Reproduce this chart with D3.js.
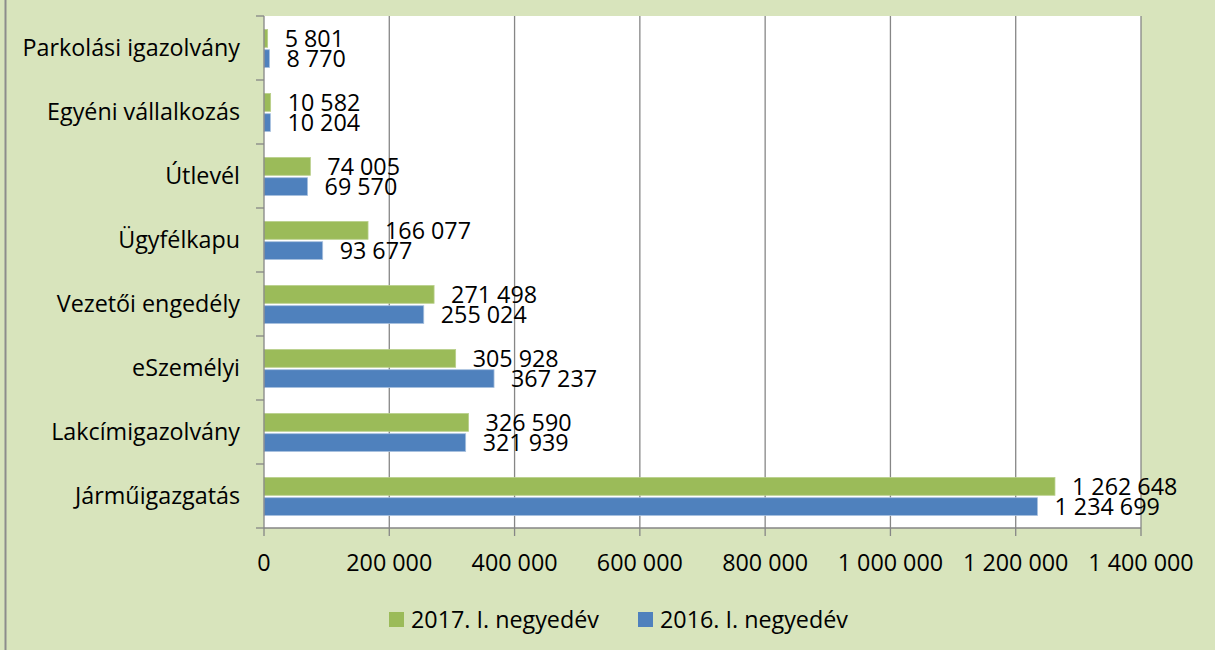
<!DOCTYPE html>
<html>
<head>
<meta charset="utf-8">
<script src="https://cdn.jsdelivr.net/npm/d3@7"></script>
<style>
  body { margin: 0; background: #d8e4bc; }
  text { font-family: "Open Sans", sans-serif; fill: #000; }
</style>
</head>
<body>
<div id="chart"></div>
<script>
// categories from bottom to top as in the picture
const categories = ['Járműigazgatás', 'Lakcímigazolvány', 'eSzemélyi', 'Vezetői engedély',
  'Ügyfélkapu', 'Útlevél', 'Egyéni vállalkozás', 'Parkolási igazolvány'];
const values2017 = [1262648, 326590, 305928, 271498, 166077, 74005, 10582, 5801];
const values2016 = [1234699, 321939, 367237, 255024, 93677, 69570, 10204, 8770];
const seriesNames = ['2017. I. negyedév', '2016. I. negyedév'];
const xTicks = [0, 200000, 400000, 600000, 800000, 1000000, 1200000, 1400000];

const W = 1215, H = 650;
const plotL = 264, plotR = 1141, plotT = 16, plotB = 528;
const colors = ['#9bbb59', '#4f81bd'];
const fs = 23.3;

function fmt(v) {
  return String(v).replace(/\B(?=(\d{3})+(?!\d))/g, ' ');
}

const svg = d3.select('#chart').append('svg')
  .attr('width', W).attr('height', H);

// background and left border
svg.append('rect').attr('width', W).attr('height', H).attr('fill', '#d8e4bc');
svg.append('line').attr('x1', 5.5).attr('x2', 5.5).attr('y1', 0).attr('y2', H)
  .attr('stroke', '#8c8c8c').attr('stroke-width', 2);

// plot area
svg.append('rect').attr('x', plotL).attr('y', plotT)
  .attr('width', plotR - plotL).attr('height', plotB - plotT).attr('fill', '#fff');

const x = d3.scaleLinear().domain([0, 1400000]).range([plotL, plotR]);
const y = d3.scaleBand().domain(categories.slice().reverse()).range([plotT, plotB]);
const inner = d3.scaleBand().domain([0, 1]).range([13.5, y.bandwidth() - 12.5]).paddingInner(0.12);

// gridlines
svg.append('g').selectAll('line').data(xTicks.slice(1)).enter().append('line')
  .attr('x1', d => x(d)).attr('x2', d => x(d))
  .attr('y1', plotT).attr('y2', plotB + 8)
  .attr('stroke', '#868686').attr('stroke-width', 1.3);

// bars
const series = [values2017, values2016];
series.forEach((vals, s) => {
  svg.append('g').selectAll('rect').data(vals).enter().append('rect')
    .attr('x', x(0))
    .attr('y', (d, i) => y(categories[i]) + inner(s))
    .attr('width', d => x(d) - x(0))
    .attr('height', inner.bandwidth())
    .attr('fill', colors[s])
    .attr('stroke', s === 1 ? '#a7c0de' : '#b9cf8a').attr('stroke-width', 0.8);

  svg.append('g').selectAll('text').data(vals).enter().append('text')
    .attr('x', d => x(d) + 17)
    .attr('y', (d, i) => y(categories[i]) + inner(s) + inner.bandwidth() / 2)
    .attr('dy', '0.36em')
    .attr('font-size', fs)
    .text(d => fmt(d));
});

// y axis
svg.append('line').attr('x1', plotL).attr('x2', plotL).attr('y1', plotT).attr('y2', plotB + 8)
  .attr('stroke', '#868686').attr('stroke-width', 1.3);
const bounds = y.domain().map(c => y(c)).concat([plotB]);
svg.append('g').selectAll('line').data(bounds).enter().append('line')
  .attr('x1', plotL - 8).attr('x2', plotL).attr('y1', d => d).attr('y2', d => d)
  .attr('stroke', '#868686').attr('stroke-width', 1.3);
svg.append('g').selectAll('text').data(categories).enter().append('text')
  .attr('x', 240)
  .attr('y', d => y(d) + y.bandwidth() / 2)
  .attr('dy', '0.36em')
  .attr('text-anchor', 'end')
  .attr('font-size', fs)
  .text(d => d);

// x axis
svg.append('line').attr('x1', plotL).attr('x2', plotR).attr('y1', plotB).attr('y2', plotB)
  .attr('stroke', '#868686').attr('stroke-width', 1.3);
svg.append('g').selectAll('text').data(xTicks).enter().append('text')
  .attr('x', d => x(d))
  .attr('y', 563)
  .attr('dy', '0.36em')
  .attr('text-anchor', 'middle')
  .attr('font-size', fs)
  .text(d => fmt(d));

// legend
const legendX = [389, 638];
seriesNames.forEach((name, i) => {
  svg.append('rect').attr('x', legendX[i]).attr('y', 612)
    .attr('width', 15).attr('height', 15).attr('fill', colors[i]);
  svg.append('text').attr('x', legendX[i] + 22).attr('y', 620)
    .attr('dy', '0.36em').attr('font-size', fs).text(name);
});
</script>
</body>
</html>
